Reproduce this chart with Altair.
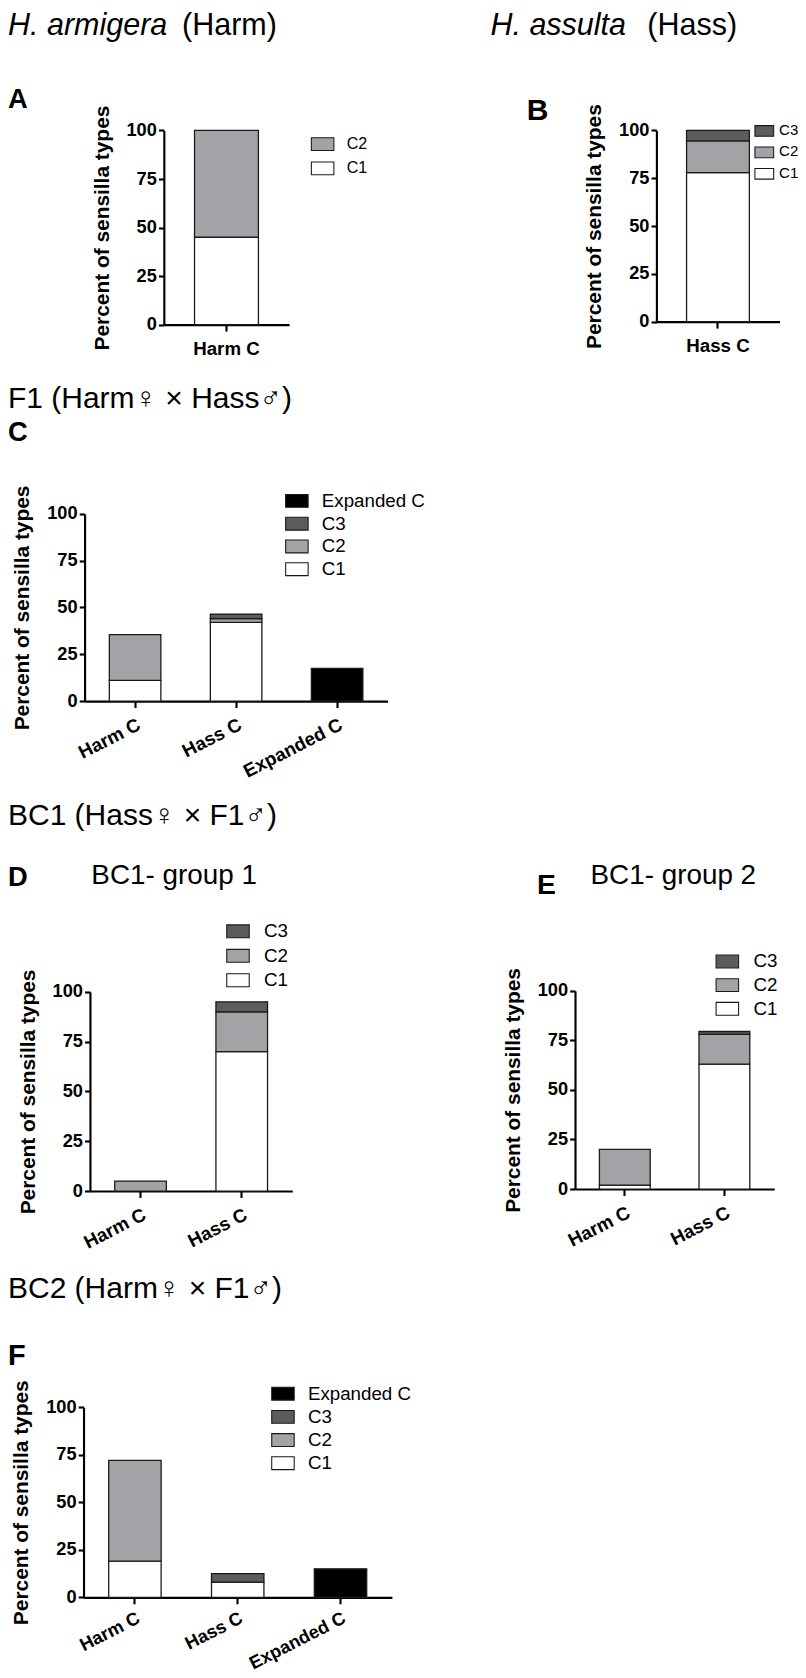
import altair as alt
import pandas as pd

FONT = "Liberation Sans"

# ---------------- data ----------------
TYPES = ["C1", "C2", "C3", "Expanded C"]
TYPE_COLORS = {"C1": "#ffffff", "C2": "#a3a3a7", "C3": "#5c5c5c", "Expanded C": "#000000"}

Y_TICKS = [0, 25, 50, 75, 100]
Y_TITLE = "Percent of sensilla types"

A_CATS = ["Harm C"]
A_C1 = [45]
A_C2 = [55]

B_CATS = ["Hass C"]
B_C1 = [78]
B_C2 = [16.5]
B_C3 = [5.5]

C_CATS = ["Harm C", "Hass C", "Expanded C"]
C_C1 = [11, 42, 0]
C_C2 = [24.5, 2, 0]
C_C3 = [0, 2.5, 0]
C_EXP = [0, 0, 17.5]

D_CATS = ["Harm C", "Hass C"]
D_C1 = [0, 70]
D_C2 = [5, 20]
D_C3 = [0, 5]

E_CATS = ["Harm C", "Hass C"]
E_C1 = [2, 63]
E_C2 = [18, 15]
E_C3 = [0, 1.5]

F_CATS = ["Harm C", "Hass C", "Expanded C"]
F_C1 = [19, 8, 0]
F_C2 = [53, 0, 0]
F_C3 = [0, 4.5, 0]
F_EXP = [0, 0, 15]

# ---------------- layout ----------------
K = 1.0708                 # page pixels per picture pixel in this viewer
RY = 0.93                  # vertical squeeze so everything stays visible
W, H = 790, 1690
SYM = "M-1.75,-1L1.75,-1L1.75,1L-1.75,1Z"


def X(v):
    return v * K - 8


def Y(v):
    return v * K * RY - 8


def stack_table(cats, series):
    rows = []
    for t in TYPES:
        if t not in series:
            continue
        for c, v in zip(cats, series[t]):
            if v > 0:
                rows.append({"cat": c, "type": t, "value": v, "rank": TYPES.index(t)})
    return pd.DataFrame(rows)


def panel(cats, series, legend_types, box, leg, angle, xlab=17.5, xpad=7, sym=12):
    x0, x1, ybot, ytop = X(box[0]), X(box[1]), Y(box[2]), Y(box[3])
    sw_left, sw_cy, lfs, pitch, gap = leg
    fs = lfs * K
    sym_h = sym * K
    half = sym_h / 2
    lx = X(sw_left) + 0.75 * half
    ly = Y(sw_cy) - fs / 2
    lrp = pitch * K * RY - fs
    loff = gap * K - (sym_h + 0.75 * half) - 1
    df = stack_table(cats, series)
    return alt.Chart(df).mark_bar(stroke="#1a1a1a", strokeWidth=1.2 * K).encode(
        x=alt.X(
            "cat:N", sort=cats,
            scale=alt.Scale(domain=cats, range=[x0, x1], paddingInner=0.49, paddingOuter=0.245),
            axis=alt.Axis(
                title=None, orient="bottom", offset=ybot - H, labelAngle=angle,
                labelAlign="center" if angle == 0 else "right", labelBaseline="top",
                labelFont=FONT, labelFontSize=xlab * K, labelFontWeight="bold", labelColor="black",
                labelPadding=xpad * K,
                domainColor="black", domainWidth=2 * K, tickColor="black", tickWidth=2 * K,
                tickSize=6 * K,
            ),
        ),
        y=alt.Y(
            "value:Q", stack="zero",
            scale=alt.Scale(domain=[0, 100], range=[ybot, ytop], nice=False, zero=True),
            axis=alt.Axis(
                title=Y_TITLE, orient="left", offset=-x0, values=Y_TICKS, grid=False,
                labelFont=FONT, labelFontSize=17 * K, labelFontWeight="bold", labelColor="black",
                labelPadding=2 * K, tickSize=5 * K, tickWidth=2 * K, tickColor="black",
                domainColor="black", domainWidth=2 * K,
                titleFont=FONT, titleFontSize=19.5 * K, titleFontWeight="bold", titleColor="black",
                titlePadding=13 * K,
            ),
        ),
        color=alt.Color(
            "type:N",
            scale=alt.Scale(domain=legend_types, range=[TYPE_COLORS[t] for t in legend_types]),
            legend=alt.Legend(
                orient="none", legendX=lx, legendY=ly, title=None, padding=0,
                symbolType=SYM, symbolSize=sym_h * sym_h, symbolStrokeColor="#1a1a1a",
                symbolStrokeWidth=1 * K,
                labelFont=FONT, labelFontSize=fs, labelColor="black",
                rowPadding=lrp, labelOffset=loff,
            ),
        ),
        order=alt.Order("rank:Q", sort="ascending"),
    )


def note(text, x, y, size, weight="normal", style="normal"):
    return alt.Chart(alt.Data(values=[{}])).mark_text(
        text=text, align="left", baseline="alphabetic", font=FONT,
        fontSize=size * K, fontWeight=weight, fontStyle=style, color="black",
    ).encode(x=alt.value(x), y=alt.value(y))


pA = panel(A_CATS, {"C1": A_C1, "C2": A_C2}, ["C2", "C1"],
           (153, 270, 326, 131), (289.3, 144.7, 15, 22.4, 32.4), 0, xpad=8)
pB = panel(B_CATS, {"C1": B_C1, "C2": B_C2, "C3": B_C3}, ["C3", "C2", "C1"],
           (613, 728, 323, 131), (703, 131.5, 14, 20.5, 21.5), 0, xpad=8, sym=10)
pC = panel(C_CATS, {"C1": C_C1, "C2": C_C2, "C3": C_C3, "Expanded C": C_EXP},
           ["Expanded C", "C3", "C2", "C1"],
           (79, 362, 704, 516), (264, 503, 17.5, 21.6, 32), 333)
pD = panel(D_CATS, {"C1": D_C1, "C2": D_C2, "C3": D_C3}, ["C3", "C2", "C1"],
           (84, 273, 1196, 996), (209, 935.2, 17.5, 23.3, 33), 333)
pE = panel(E_CATS, {"C1": E_C1, "C2": E_C2, "C3": E_C3}, ["C3", "C2", "C1"],
           (537, 723, 1194, 995), (666, 965.5, 17.5, 22.5, 33), 333)
pF = panel(F_CATS, {"C1": F_C1, "C2": F_C2, "C3": F_C3, "Expanded C": F_EXP},
           ["Expanded C", "C3", "C2", "C1"],
           (78, 366, 1604, 1413), (251, 1399.5, 17.5, 22, 32), 333, xlab=17, xpad=5)

notes = [
    note("H. armigera", 0, 27, 28.5, style="italic"),
    note("(Harm)", X(170), 27, 28.5),
    note("H. assulta", X(458), 27, 28.5, style="italic"),
    note("(Hass)", X(604.5), 27, 28.5),
    note("A", 0, Y(108.3), 25.5, weight="bold"),
    note("B", X(492), Y(120.7), 28, weight="bold"),
    note("F1 (Harm\u2640 \u00d7 Hass\u2642)", 0, Y(410), 28),
    note("C", 0, Y(443.3), 25.5, weight="bold"),
    note("BC1 (Hass\u2640 \u00d7 F1\u2642)", 0, Y(828.3), 28),
    note("D", 0, Y(890), 25.5, weight="bold"),
    note("BC1- group 1", X(85.3), Y(887.7), 26),
    note("E", X(501.5), Y(897.3), 26.5, weight="bold"),
    note("BC1- group 2", X(551.5), Y(887.3), 26),
    note("BC2 (Harm\u2640 \u00d7 F1\u2642)", 0, Y(1303.3), 28),
    note("F", 0, Y(1370.7), 27, weight="bold"),
]

chart = alt.layer(pA, pB, pC, pD, pE, pF, *notes).resolve_scale(
    x="independent", y="independent", color="independent"
).properties(
    width=W, height=H, padding=0,
    autosize=alt.AutoSizeParams(type="none"),
).configure_view(strokeWidth=0)

chart.save("out.html", embed_options={"renderer": "svg", "actions": False})
